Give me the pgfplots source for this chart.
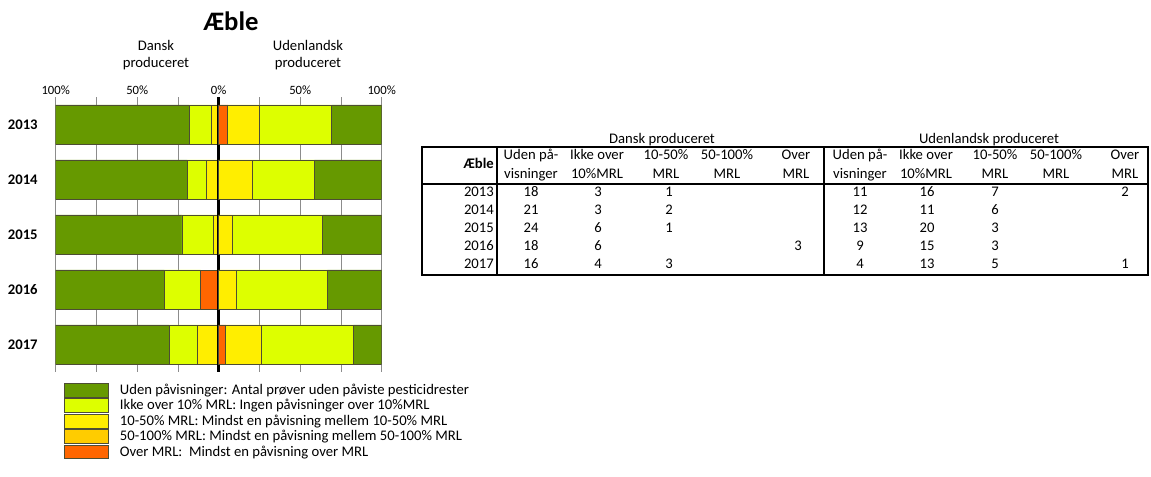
\documentclass[border=0pt]{standalone}
\usepackage{pgfplots}
\usepackage{pgfplotstable}
\pgfplotsset{compat=1.18}
\usepackage{fontspec}
\setmainfont{Carlito}

\definecolor{cUden}{HTML}{669900}
\definecolor{cIkke}{HTML}{DDFF00}
\definecolor{cTi}{HTML}{FFEE00}
\definecolor{cFemti}{HTML}{FFCC00}
\definecolor{cOver}{HTML}{FF6600}
\definecolor{cEdge}{HTML}{4D4D33}

% andele i procent (y: 4 = 2013 ... 0 = 2017)
\pgfplotstableread{
y uden ikke ti femti over
4 -81.82 -13.64 -4.55  0 0
3 -80.77 -11.54 -7.69  0 0
2 -77.42 -19.35 -3.23  0 0
1 -66.67 -22.22  0     0 -11.11
0 -69.57 -17.39 -13.04 0 0
}\dansk
\pgfplotstableread{
y uden ikke ti femti over
4 30.56 44.44 19.44 0 5.56
3 41.38 37.93 20.69 0 0
2 36.11 55.56  8.33 0 0
1 33.33 55.56 11.11 0 0
0 17.39 56.52 21.74 0 4.35
}\udland

\pgfplotsset{
  baxis/.style={
    at={(41.78pt,78.75pt)}, anchor=south west,
    scale only axis, width=244.5pt, height=206.25pt,
    xbar stacked, bar width=29.25pt,
    xmin=-100, xmax=100, ymin=-0.5, ymax=4.5,
  },
  barsty/.style={fill=#1, draw=cEdge, line width=0.6pt,
    legend image code/.code={%
      \draw[fill=#1, draw=cEdge, line width=0.6pt] (0pt,-5.2pt) rectangle (33pt,5.2pt);}},
}
\newcommand{\tf}{\fontsize{11}{13}\selectfont}

\begin{document}
\begin{tikzpicture}
\path[use as bounding box] (0,0) rectangle (863.25pt,357.75pt);

\begin{axis}[baxis,
  axis line style={draw=none},
  major tick length=0pt, minor tick length=0pt,
  xtick={-100,-50,0,50,100},
  xticklabels={100\%,50\%,0\%,50\%,100\%},
  minor xtick={-75,-25,25,75},
  xticklabel pos=upper,
  xmajorgrids, xminorgrids,
  major grid style={black!45, line width=0.6pt},
  minor grid style={black!45, line width=0.6pt},
  ytick={0,...,4},
  yticklabels={2017,2016,2015,2014,2013},
  xticklabel style={font=\fontsize{9.5}{11}\selectfont, yshift=-2pt},
  yticklabel style={font=\tf\bfseries, xshift=-10pt},
  reverse legend,
  legend cell align=left,
  legend style={at={(axis description cs:0.0255,-0.04)}, anchor=north west,
    draw=none, fill=none, inner sep=0pt, outer sep=0pt, font=\tf,
    nodes={inner sep=0.3pt}, row sep=0.55pt,
    /tikz/every odd column/.append style={column sep=8pt}},
]
\addplot[barsty=cOver] table[x=over,y=y] {\dansk};
\addlegendentry{Over MRL:\ \ Mindst en påvisning over MRL}
\addplot[barsty=cFemti] table[x=femti,y=y] {\dansk};
\addlegendentry{50-100\% MRL: Mindst en påvisning mellem 50-100\% MRL}
\addplot[barsty=cTi] table[x=ti,y=y] {\dansk};
\addlegendentry{10-50\% MRL: Mindst en påvisning mellem 10-50\% MRL}
\addplot[barsty=cIkke] table[x=ikke,y=y] {\dansk};
\addlegendentry{Ikke over 10\% MRL: Ingen påvisninger over 10\%MRL}
\addplot[barsty=cUden] table[x=uden,y=y] {\dansk};
\addlegendentry{Uden påvisninger: Antal prøver uden påviste pesticidrester}
\end{axis}

\begin{axis}[baxis, hide axis]
\addplot[barsty=cOver] table[x=over,y=y] {\udland};
\addplot[barsty=cFemti] table[x=femti,y=y] {\udland};
\addplot[barsty=cTi] table[x=ti,y=y] {\udland};
\addplot[barsty=cIkke] table[x=ikke,y=y] {\udland};
\addplot[barsty=cUden] table[x=uden,y=y] {\udland};
\draw[black, line width=2pt] (axis cs:0,-0.5) -- (axis cs:0,4.5);
\end{axis}

\begin{scope}[x=0.75pt, y=-0.75pt, yshift=357.75pt, font=\tf,
  every node/.style={inner sep=0pt, text height=7.5pt, text depth=2.5pt}]
  \node[font=\fontsize{20}{22}\selectfont\bfseries, text height=14pt, text depth=0pt] at (231,21) {Æble};
  \node[align=center, text height=, text depth=] at (156,55) {Dansk\\produceret};
  \node[align=center, text height=, text depth=] at (308,55) {Udenlandsk\\produceret};

  % tabel
  \node at (662,140) {Dansk produceret};
  \node at (989,140) {Udenlandsk produceret};
  \draw[line width=1.5pt] (422,147) rectangle (1148,275);
  \draw[line width=1.5pt] (422,184) -- (1148,184);
  \draw[line width=1.5pt] (497,147) -- (497,275);
  \draw[line width=1.5pt] (824,147) -- (824,275);
  \node[anchor=east, font=\tf\bfseries] at (494,165) {Æble};
  \foreach \xa in {0,329}{
    \node at (531+\xa,156) {Uden på-};   \node at (531+\xa,175) {visninger};
    \node at (597+\xa,156) {Ikke over};  \node at (597+\xa,175) {10\%MRL};
    \node at (666+\xa,156) {10-50\%};    \node at (666+\xa,175) {MRL};
    \node at (727+\xa,156) {50-100\%};   \node at (727+\xa,175) {MRL};
    \node at (796+\xa,156) {Over};       \node at (796+\xa,175) {MRL};
  }
  \foreach \yr/\yy/\a/\b/\c/\d/\e/\f/\g/\h/\i/\j in {
    2013/193/18/3/1///11/16/7//2,
    2014/211/21/3/2///12/11/6//,
    2015/229/24/6/1///13/20/3//,
    2016/247/18/6///3/9/15/3//,
    2017/265/16/4/3///4/13/5//1}{
    \node[anchor=east] at (494,\yy) {\yr};
    \node at (531,\yy) {\a}; \node at (598,\yy) {\b}; \node at (669,\yy) {\c};
    \node at (727,\yy) {\d}; \node at (798,\yy) {\e};
    \node at (860,\yy) {\f}; \node at (927,\yy) {\g}; \node at (995,\yy) {\h};
    \node at (1062,\yy) {\i}; \node at (1125,\yy) {\j};
  }
\end{scope}
\end{tikzpicture}
\end{document}
